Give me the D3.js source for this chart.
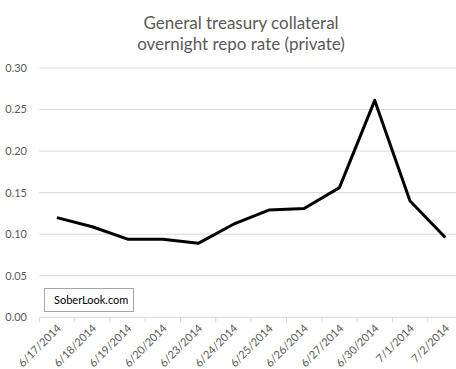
<!DOCTYPE html>
<html><head><meta charset="utf-8">
<script src="https://cdn.jsdelivr.net/npm/d3@7"></script>
<style>body{margin:0;background:#fff}svg{display:block}</style>
</head><body>
<svg id="c" width="456" height="369"></svg>
<script>
const categories = ["6/17/2014","6/18/2014","6/19/2014","6/20/2014","6/23/2014","6/24/2014","6/25/2014","6/26/2014","6/27/2014","6/30/2014","7/1/2014","7/2/2014"];
const values = [0.120, 0.109, 0.094, 0.094, 0.089, 0.112, 0.129, 0.131, 0.156, 0.261, 0.140, 0.096];
const yTicks = [0, 0.05, 0.10, 0.15, 0.20, 0.25, 0.30];
const titleLines = ["General treasury collateral", "overnight repo rate (private)"];
const watermark = "SoberLook.com";

const svg = d3.select("#c");
const font = "Lato, 'Open Sans', sans-serif";
const x = d3.scaleBand().domain(categories).range([39.3, 463]);
const y = d3.scaleLinear().domain([0, 0.30]).range([317.3, 68]);

// gridlines
svg.append("g").selectAll("line").data(yTicks.filter(d => d > 0)).join("line")
  .attr("x1", 39.3).attr("x2", 456).attr("y1", d => y(d)).attr("y2", d => y(d))
  .attr("stroke", "#d9d9d9").attr("stroke-width", 1);

// y labels
svg.append("g").selectAll("text").data(yTicks).join("text")
  .attr("x", 27).attr("y", d => y(d)).attr("dy", "0.35em")
  .attr("text-anchor", "end").attr("font-family", font).attr("font-size", 11)
  .attr("fill", "#595959").text(d => d.toFixed(2));

// x axis
const xa = svg.append("g").attr("transform", "translate(0,317.3)");
xa.append("line").attr("x1", 39.3).attr("x2", 456).attr("stroke", "#d9d9d9");
xa.selectAll("line.t").data(categories).join("line").attr("class", "t")
  .attr("x1", d => x(d)).attr("x2", d => x(d)).attr("y1", 0).attr("y2", 5)
  .attr("stroke", "#d9d9d9");
xa.selectAll("text").data(categories).join("text")
  .attr("transform", d => `translate(${x(d) + x.bandwidth()/2 + 2},${9}) rotate(-45)`)
  .attr("text-anchor", "end").attr("dy", "0.35em")
  .attr("font-family", font).attr("font-size", 11).attr("fill", "#595959")
  .text(d => d);

// line
const line = d3.line().x((d, i) => x(categories[i]) + x.bandwidth()/2).y(d => y(d));
svg.append("path").datum(values).attr("d", line)
  .attr("fill", "none").attr("stroke", "#000").attr("stroke-width", 3)
  .attr("stroke-linejoin", "round");

// title
svg.append("g").selectAll("text").data(titleLines).join("text")
  .attr("x", 241).attr("y", (d, i) => 29 + i * 21)
  .attr("text-anchor", "middle").attr("font-family", font).attr("font-size", 17)
  .attr("fill", "#595959").text(d => d);

// watermark
svg.append("rect").attr("x", 44.5).attr("y", 288.5).attr("width", 89).attr("height", 23)
  .attr("fill", "#fff").attr("stroke", "#a6a6a6");
svg.append("text").attr("x", 54).attr("y", 304).attr("font-family", font)
  .attr("font-size", 11).attr("fill", "#000").text(watermark);
</script>
</body></html>
